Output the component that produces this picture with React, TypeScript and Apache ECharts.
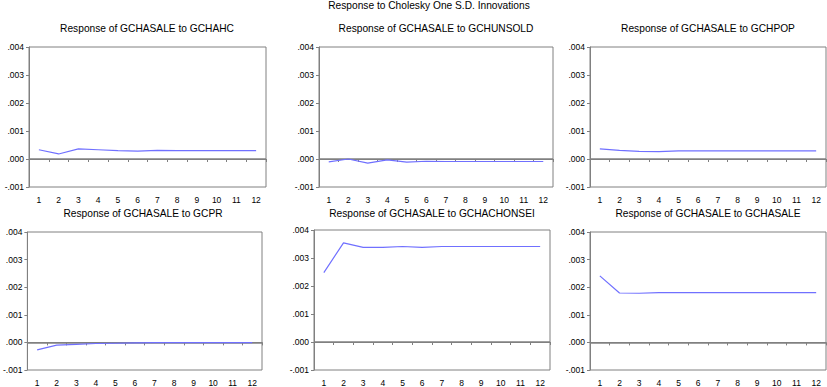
import React, { useEffect, useRef } from "react";
import * as echarts from "echarts";

const periods = ["1", "2", "3", "4", "5", "6", "7", "8", "9", "10", "11", "12"];

const mainTitle = "Response to Cholesky One S.D. Innovations";

const panelTitles = [
  "Response of GCHASALE to GCHAHC",
  "Response of GCHASALE to GCHUNSOLD",
  "Response of GCHASALE to GCHPOP",
  "Response of GCHASALE to GCPR",
  "Response of GCHASALE to GCHACHONSEI",
  "Response of GCHASALE to GCHASALE",
];

const respGCHAHC = [0.00033, 0.00018, 0.00036, 0.00033, 0.0003, 0.00028, 0.00031, 0.0003, 0.0003, 0.0003, 0.0003, 0.0003];
const respGCHUNSOLD = [-0.0001, 0.0, -0.00015, -0.00003, -0.00011, -0.00008, -0.00009, -0.00009, -0.00009, -0.00009, -0.00009, -0.00009];
const respGCHPOP = [0.00036, 0.00031, 0.00027, 0.00026, 0.00029, 0.00029, 0.00029, 0.00029, 0.00029, 0.00029, 0.00029, 0.00029];
const respGCPR = [-0.00027, -0.0001, -0.00007, -0.00004, -0.00003, -0.00002, -0.00001, -0.00001, -0.00001, -0.00001, -0.00001, -0.00001];
const respGCHACHONSEI = [0.00248, 0.00354, 0.00338, 0.00338, 0.00341, 0.00338, 0.00341, 0.00341, 0.00341, 0.00341, 0.00341, 0.00341];
const respGCHASALE = [0.00241, 0.00179, 0.00178, 0.0018, 0.0018, 0.0018, 0.0018, 0.0018, 0.0018, 0.0018, 0.0018, 0.0018];

const seriesData = [respGCHAHC, respGCHUNSOLD, respGCHPOP, respGCPR, respGCHACHONSEI, respGCHASALE];

const grids = [
  { left: 29, top: 47, width: 237, height: 140 },
  { left: 319, top: 47, width: 234, height: 140 },
  { left: 590, top: 47, width: 236, height: 140 },
  { left: 26, top: 232, width: 236, height: 140 },
  { left: 314, top: 230, width: 236, height: 142 },
  { left: 590, top: 232, width: 236, height: 140 },
];

const titlePos = [
  [147, 28],
  [436, 28],
  [708, 28],
  [143, 213],
  [432, 213],
  [708, 213],
];

const FONT = "Liberation Sans, Arial, sans-serif";
const AXIS = "#808080";
const LINE = "#7070ff";

export default function App() {
  const ref = useRef<HTMLDivElement>(null);
  useEffect(() => {
    if (!ref.current) return;
    const chart = echarts.init(ref.current, null, { renderer: "svg" });
    const option: any = {
      animation: false,
      backgroundColor: "#ffffff",
      grid: grids.map((g) => ({ ...g, show: true, borderColor: AXIS, borderWidth: 1, backgroundColor: "transparent" })),
      xAxis: grids.map((_, i) => ({
        type: "category",
        gridIndex: i,
        data: periods,
        boundaryGap: true,
        axisLine: { show: true, lineStyle: { color: AXIS, width: 1 } },
        axisTick: { show: true, inside: false, length: 3, lineStyle: { color: AXIS } },
        axisLabel: { interval: 0, fontSize: 8.5, color: "#000", fontFamily: FONT, margin: 8 },
        splitLine: { show: false },
      })),
      yAxis: grids.map((_, i) => ({
        type: "value",
        gridIndex: i,
        min: -0.001,
        max: 0.004,
        interval: 0.001,
        axisLine: { show: true, lineStyle: { color: AXIS, width: 1 } },
        axisTick: { show: true, inside: false, length: 3, lineStyle: { color: AXIS } },
        axisLabel: {
          fontSize: 8.5,
          color: "#000",
          fontFamily: FONT,
          margin: 5,
          formatter: (v: number) => v.toFixed(3).replace("0.", "."),
        },
        splitLine: { show: false },
      })),
      series: seriesData.map((d, i) => ({
        type: "line",
        xAxisIndex: i,
        yAxisIndex: i,
        data: d,
        symbol: "none",
        lineStyle: { color: LINE, width: 1.2 },
        z: 3,
        markLine: {
          silent: true,
          symbol: "none",
          label: { show: false },
          lineStyle: { color: AXIS, width: 1.5, type: "solid" },
          data: [{ yAxis: 0 }],
          z: 2,
        },
      })),
      graphic: [
        {
          type: "text",
          x: 429,
          y: 5,
          style: {
            text: mainTitle,
            fontSize: 10.2,
            fontFamily: FONT,
            fill: "#000",
            textAlign: "center",
            textVerticalAlign: "middle",
          },
        },
        ...panelTitles.map((t, i) => ({
          type: "text",
          x: titlePos[i][0],
          y: titlePos[i][1],
          style: {
            text: t,
            fontSize: 10.2,
            fontFamily: FONT,
            fill: "#000",
            textAlign: "center",
            textVerticalAlign: "middle",
          },
        })),
      ],
    };
    chart.setOption(option);
    return () => chart.dispose();
  }, []);
  return (
    <div
      ref={ref}
      style={{ position: "absolute", left: 0, top: 0, width: 827, height: 387 }}
    />
  );
}
